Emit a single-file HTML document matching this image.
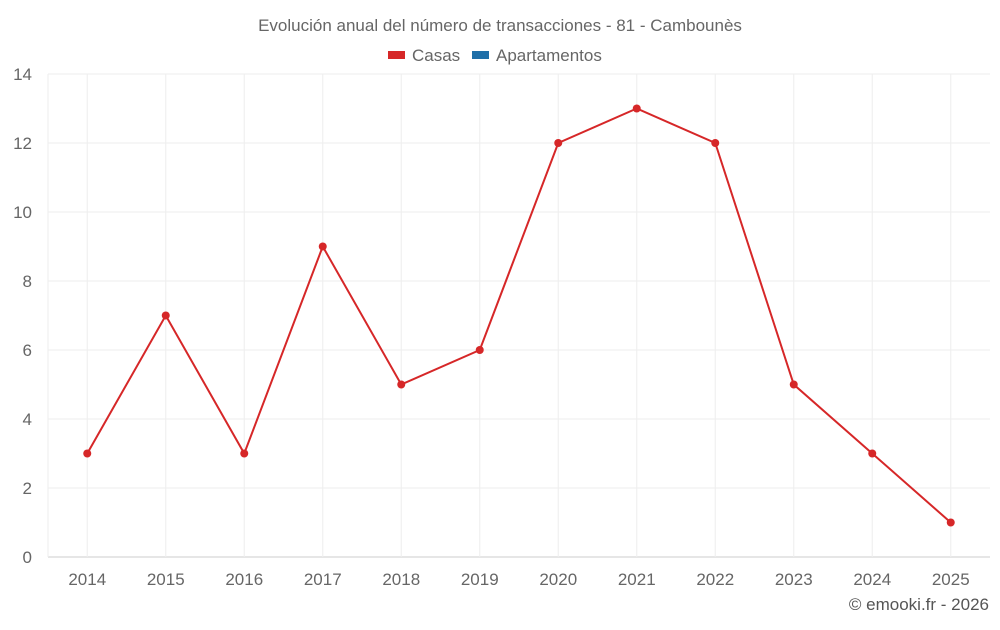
<!DOCTYPE html>
<html><head><meta charset="utf-8"><style>
body{margin:0;background:#fff;width:1000px;height:625px;overflow:hidden;font-family:"Liberation Sans",sans-serif}
</style></head><body>
<svg width="1000" height="625" xmlns="http://www.w3.org/2000/svg" id="svg">
<text x="500" y="31" text-anchor="middle" font-size="17" fill="#666">Evolución anual del número de transacciones - 81 - Cambounès</text>
<g>
<g><rect x="388" y="51" width="17" height="8" fill="#d62728"/><text x="412" y="61" font-size="17" fill="#666">Casas</text></g>
<g><rect x="472" y="51" width="17" height="8" fill="#1f6fa8"/><text x="496" y="61" font-size="17" fill="#666">Apartamentos</text></g>
</g>
<g id="grid"></g><g id="axes"></g><g id="series"></g>
<text x="989" y="610" text-anchor="end" font-size="17" fill="#555">© emooki.fr - 2026</text>
</svg>
<script>
const years=["2014","2015","2016","2017","2018","2019","2020","2021","2022","2023","2024","2025"];
const casas=[3,7,3,9,5,6,12,13,12,5,3,1];
const yTicks=[0,2,4,6,8,10,12,14];
const L=48,R=990,T=74,B=557,yMax=14;
const bw=(R-L)/years.length;
const xs=i=>L+bw*(i+0.5);
const ys=v=>B-(B-T)*v/yMax;
const NS="http://www.w3.org/2000/svg";
function mk(t,a,p){const e=document.createElementNS(NS,t);for(const k in a)e.setAttribute(k,a[k]);p.appendChild(e);return e;}
const g=document.getElementById('grid'),ax=document.getElementById('axes'),s=document.getElementById('series');
yTicks.forEach(v=>{
 const l=mk('line',{x1:L,x2:R,y1:ys(v),y2:ys(v),stroke:v===0?'#ccc':'#eee'},g);
 
 
 const t=mk('text',{x:32,y:ys(v)+6,'text-anchor':'end','font-size':17,fill:'#666'},ax);t.textContent=v;
 
 
});
mk('line',{x1:L,x2:L,y1:T,y2:B,stroke:'#eee'},g);
years.forEach((y,i)=>{
 const l=mk('line',{x1:xs(i),x2:xs(i),y1:T,y2:B,stroke:'#eee'},g);
 
 
 const t=mk('text',{x:xs(i),y:585,'text-anchor':'middle','font-size':17,fill:'#666'},ax);t.textContent=y;
 
 
});
const pl=mk('polyline',{points:casas.map((v,i)=>xs(i)+','+ys(v)).join(' '),fill:'none',stroke:'#d62728','stroke-width':2},s);


casas.forEach((v,i)=>{
 const c=mk('circle',{cx:xs(i),cy:ys(v),r:4,fill:'#d62728'},s);
 
 
});
</script>
</body></html>
